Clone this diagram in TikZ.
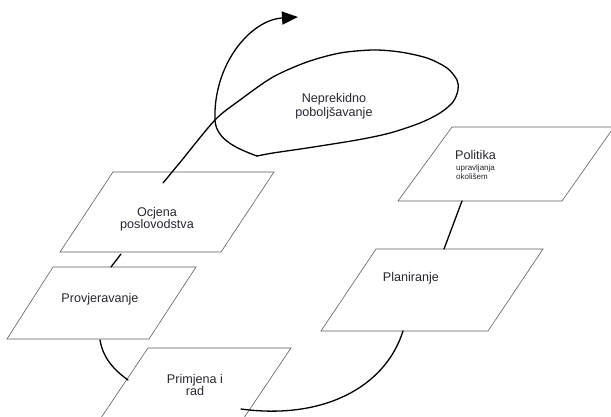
\documentclass[tikz,border=0pt]{standalone}
\usepackage{fontspec}
\setmainfont{Liberation Sans}
\usetikzlibrary{arrows.meta}
\definecolor{boxline}{RGB}{95,95,95}
\definecolor{txt}{RGB}{40,40,50}
\begin{document}
\begin{tikzpicture}[x=1pt,y=-1pt,
  panel/.style={draw=boxline, line width=0.6pt, fill=white, line join=miter},
  flow/.style={draw=black, line width=1.3pt, line cap=round},
  lbl/.style={text=txt, font=\fontsize{12.6}{13}\selectfont, inner sep=0pt, align=center},
  small/.style={text=txt, font=\fontsize{8}{9.5}\selectfont, inner sep=0pt, align=left}]
\path[use as bounding box, fill=white] (0,0) rectangle (611,416);
\clip (0,0) rectangle (611,416);

% parallelogram corners
\coordinate (pol1) at (452,127); \coordinate (pol2) at (614,127);
\coordinate (pol3) at (562,201); \coordinate (pol4) at (398,201);
\coordinate (pla1) at (376,249); \coordinate (pla2) at (543,249);
\coordinate (pla3) at (488,331); \coordinate (pla4) at (321,331);
\coordinate (ocj1) at (113,172); \coordinate (ocj2) at (274,172);
\coordinate (ocj3) at (221,252); \coordinate (ocj4) at (60,252);
\coordinate (prv1) at (53,267);  \coordinate (prv2) at (196,267);
\coordinate (prv3) at (149,339); \coordinate (prv4) at (7,339);
\coordinate (pri1) at (148,348); \coordinate (pri2) at (291,348);
\coordinate (pri3) at (219,455); \coordinate (pri4) at (76,455);

\draw[panel] (pol1) -- (pol2) -- (pol3) -- (pol4) -- cycle;
\draw[panel] (pla1) -- (pla2) -- (pla3) -- (pla4) -- cycle;
\draw[panel] (ocj1) -- (ocj2) -- (ocj3) -- (ocj4) -- cycle;
\draw[panel] (prv1) -- (prv2) -- (prv3) -- (prv4) -- cycle;
\draw[panel] (pri1) -- (pri2) -- (pri3) -- (pri4) -- cycle;

% connector ends
\coordinate (polBot) at (462,201);
\coordinate (plaTop) at (444,249);
\coordinate (plaBot) at (403,331);
\coordinate (priIn) at (241,409);
\coordinate (ocjBot) at (121,254);
\coordinate (prvTop) at (111,267);
\coordinate (prvBot) at (100,340);
\coordinate (priLeft) at (128,380);
\coordinate (ocjTop) at (163,183);
\coordinate (cross) at (215,120);
\coordinate (corner) at (257,156);
\coordinate (tip) at (298,17);

% connectors
\draw[flow] (polBot) -- (plaTop);
\draw[flow] (plaBot) .. controls (385,388) and (322,420) .. (priIn);
\draw[flow] (ocjBot) -- (prvTop);
\draw[flow] (prvBot) .. controls (103,358) and (114,370) .. (priLeft);

% spiral loop
\draw[flow] plot[smooth] coordinates {(ocjTop) (182,160) (cross) (240,100) (273,77) (307,62) (340,53) (373,50) (400,52) (427,58) (447,68) (457,80) (458,90) (453,102) (440,113) (420,123) (390,133) (357,140) (307,148) (273,153) (corner)};
\draw[flow, -{Triangle[length=16pt,width=13pt]}] (corner) .. controls (238,149) and (216,140) .. (cross) .. controls (213,65) and (250,20) .. (tip);

% labels (base anchor = baseline of the last line)
\node[lbl, anchor=base, font=\fontsize{12.6}{14}\selectfont] (nep) at (334,116.7) {Neprekidno\\poboljšavanje};
\node[lbl, anchor=base, font=\fontsize{12.6}{12.5}\selectfont] (ocj) at (157,228.5) {Ocjena\\poslovodstva};
\node[lbl, anchor=base] (prv) at (100,302.5) {Provjeravanje};
\node[lbl, anchor=base, font=\fontsize{12.6}{12}\selectfont] (pri) at (195,395) {Primjena i\\rad};
\node[lbl, anchor=base] (pla) at (411,281.5) {Planiranje};
\node[lbl, anchor=base west] (pol) at (455,159.5) {Politika};
\node[small, anchor=base west] (polsub) at (456,179.5) {upravljanja\\okolišem};
\end{tikzpicture}
\end{document}
